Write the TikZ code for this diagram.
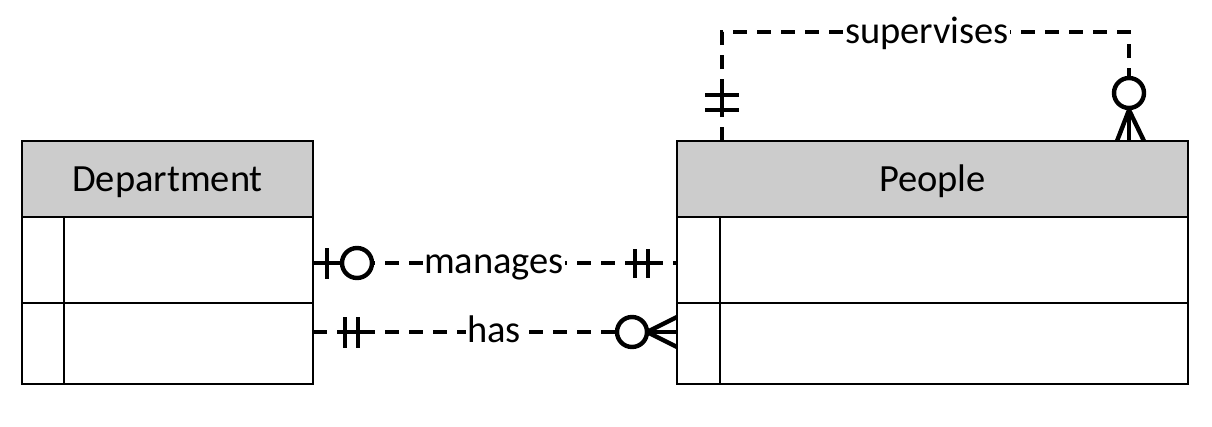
\documentclass[tikz,border=0pt]{standalone}
\usepackage{fontspec}
\setmainfont{Carlito}
\begin{document}
\begin{tikzpicture}[x=1pt,y=-1pt,
  tbl/.style={draw, line width=2.8pt, anchor=north west, inner sep=0pt, outer sep=0pt, font=\fontsize{38.5}{42}\selectfont},
  hdr/.style={tbl, fill=black!20, text height=27pt, text depth=3pt},
  conn/.style={line width=4.4pt, dash pattern=on 14pt off 10pt},
  mk/.style={line width=4.4pt},
  lbl/.style={fill=white, inner sep=1pt, anchor=base, font=\fontsize{38.5}{42}\selectfont}]
\useasboundingbox (0,0) rectangle (1212,426);
% Department
\node[hdr, minimum width=291pt, minimum height=76pt] (dh) at (22,141) {Department};
\node[tbl, minimum width=291pt, minimum height=86pt] (d1) at (22,217) {};
\node[tbl, minimum width=291pt, minimum height=81pt] (d2) at (22,303) {};
\draw[line width=2.8pt] (64,217) -- (64,384);
% People
\node[hdr, minimum width=511pt, minimum height=76pt] (ph) at (677,141) {People};
\node[tbl, minimum width=511pt, minimum height=86pt] (p1) at (677,217) {};
\node[tbl, minimum width=511pt, minimum height=81pt] (p2) at (677,303) {};
\draw[line width=2.8pt] (720,217) -- (720,384);
% anchor coordinates
\coordinate (ma) at ([yshift=-3pt]d1.east);
\coordinate (mb) at ([yshift=-3pt]p1.east -| p1.west);
\coordinate (ha) at ([yshift=11.5pt]d2.east);
\coordinate (hb) at ([yshift=11.5pt]d2.east -| p2.west);
\coordinate (sa) at (722,141);
\coordinate (sb) at (1129,141);
% manages
\draw[conn] (ma) -- (mb);
\draw[mk] (ma) -- (342,263);
\draw[mk] (327,248) -- (327,279);
\draw[mk, fill=white] (357,263) circle (15pt);
\draw[mk] (628,263) -- (655,263);
\draw[mk] (635,249) -- (635,278) (648,249) -- (648,278);
\node[lbl] (ml) at (494,273) {manages};
% has
\draw[conn] (ha) -- (hb);
\draw[mk] (338,332) -- (364,332);
\draw[mk] (345,317) -- (345,348) (358,317) -- (358,348);
\draw[mk, fill=white] (632,332) circle (15pt);
\draw[mk] (647,332) -- (hb);
\draw[mk] (647,332) -- (677,317) (647,332) -- (677,347);
\node[lbl] (hl) at (494,342) {has};
% supervises
\draw[conn] (sa) -- (722,32) -- (1129,32) -- (sb);
\draw[mk] (722,88) -- (722,117);
\draw[mk] (705,95) -- (739,95) (705,110) -- (739,110);
\draw[mk, fill=white] (1129,93) circle (15pt);
\draw[mk] (1129,108) -- (sb);
\draw[mk] (1129,110) -- (1117,141) (1129,110) -- (1144,141);
\node[lbl] (sl) at (927,43) {supervises};
\end{tikzpicture}
\end{document}
